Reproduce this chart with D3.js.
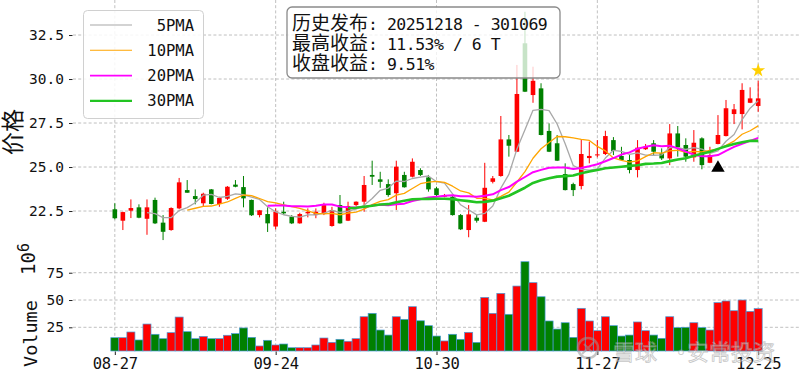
<!DOCTYPE html>
<html>
<head>
<meta charset="utf-8">
<script src="https://cdn.jsdelivr.net/npm/d3@7/dist/d3.min.js"></script>
<style>
  body { margin: 0; background: #fff; }
  svg { display: block; }
  text { white-space: pre; }
</style>
</head>
<body>
<svg id="chart" width="800" height="377"></svg>
<script>
// trading days (MM-DD), 2025-08-27 .. 2025-12-25
var dates = ["08-27","08-28","08-29",
  "09-01","09-02","09-03","09-04","09-05","09-08","09-09","09-10","09-11","09-12",
  "09-15","09-16","09-17","09-18","09-19","09-22","09-23","09-24","09-25","09-26","09-29","09-30",
  "10-09","10-10","10-13","10-14","10-15","10-16","10-17","10-20","10-21","10-22","10-23","10-24",
  "10-27","10-28","10-29","10-30","10-31",
  "11-03","11-04","11-05","11-06","11-07","11-10","11-11","11-12","11-13","11-14",
  "11-17","11-18","11-19","11-20","11-21","11-24","11-25","11-26","11-27","11-28",
  "12-01","12-02","12-03","12-04","12-05","12-08","12-09","12-10","12-11","12-12",
  "12-15","12-16","12-17","12-18","12-19","12-22","12-23","12-24","12-25"];

var open = [22.60,21.95,22.52,22.71,22.06,23.13,21.84,21.42,22.65,23.69,
  23.35,22.94,23.73,22.90,23.20,24.00,23.86,23.13,22.27,22.33,
  21.62,22.46,22.18,21.80,22.37,22.27,22.33,21.65,22.84,21.95,
  22.84,23.03,24.55,24.30,24.03,23.51,24.55,24.45,24.83,24.41,
  23.79,23.31,23.31,22.27,21.42,22.12,21.89,24.16,24.49,26.57,
  25.87,32.03,29.09,29.47,27.05,26.35,24.60,24.03,23.92,25.51,
  25.66,25.74,26.53,25.63,25.40,24.83,26.01,26.35,25.78,25.49,
  26.91,26.25,25.55,26.63,25.24,26.31,26.76,28.01,28.01,28.65,28.47];
var high = [22.94,22.46,23.16,22.88,23.16,23.26,22.27,22.71,24.38,24.26,
  23.73,23.54,23.75,23.31,23.92,24.26,24.49,23.15,22.56,22.71,
  22.65,23.03,22.27,22.40,22.65,22.65,22.97,22.74,23.41,23.03,
  23.05,24.49,25.36,24.73,24.30,25.36,24.73,25.49,24.93,24.55,
  23.88,23.47,23.35,22.33,22.84,22.27,25.24,24.49,27.90,26.82,
  30.80,33.82,30.70,29.76,27.48,26.82,25.21,24.11,26.57,26.44,
  26.53,27.06,26.70,26.15,25.68,26.53,26.31,26.53,26.06,27.44,
  27.33,26.63,27.10,26.69,26.15,27.95,28.81,28.58,29.76,29.53,29.90];
var low = [22.03,21.42,22.10,22.09,21.15,21.76,20.85,21.38,22.60,23.54,
  22.88,22.78,22.88,22.74,23.13,23.85,22.71,22.22,22.14,21.31,
  21.46,22.27,21.76,21.78,22.14,22.09,22.27,21.61,21.78,21.93,
  22.78,22.46,23.98,23.82,23.31,22.56,23.83,24.41,24.49,23.60,
  23.35,23.28,22.24,21.42,21.01,21.84,21.87,24.07,24.45,25.59,
  25.85,29.26,28.65,26.80,25.85,25.34,23.67,23.35,23.73,25.21,
  25.55,25.68,25.68,25.36,24.64,24.41,25.97,25.63,25.40,25.11,
  25.59,25.30,25.30,24.87,25.22,26.29,26.74,27.44,27.14,28.63,28.14];
var close = [22.09,22.44,22.67,22.12,22.71,21.80,21.32,22.67,24.13,23.54,
  23.18,23.48,22.90,23.24,23.88,23.88,23.22,22.26,22.54,21.80,
  22.47,22.37,21.80,22.33,22.46,22.46,22.84,22.56,21.80,22.78,
  23.03,23.98,24.45,24.16,23.41,25.02,23.85,25.30,24.55,23.73,
  23.41,23.41,22.27,21.46,22.31,21.95,23.82,24.36,26.57,26.21,
  29.15,29.28,29.90,26.82,25.87,25.36,23.69,23.69,25.74,25.63,
  25.72,26.76,25.91,25.40,24.83,26.10,26.15,25.87,25.49,26.91,
  26.12,25.59,26.38,25.11,25.68,26.82,28.34,28.28,29.38,28.90,28.90];
// volume, in 10^6
var volume = [15.5,15.5,20.7,13.4,28.0,18.6,14.6,20.1,34.4,21.0,
  14.6,16.7,14.6,14.6,17.7,19.2,24.4,15.8,7.9,13.1,
  8.8,9.7,6.3,6.3,6.3,8.8,15.2,11.2,14.0,12.2,
  14.6,34.7,37.8,22.5,17.9,34.7,32.3,43.9,31.0,26.5,
  17.0,12.5,18.6,14.0,20.4,11.2,52.4,37.8,56.1,36.9,
  62.8,85.1,65.9,53.0,30.8,23.4,29.2,15.8,42.4,30.8,
  21.9,34.7,26.5,17.0,17.9,29.9,21.9,17.9,14.9,34.7,
  24.7,25.0,29.2,24.7,22.5,47.6,49.1,40.2,50.0,39.6,42.1];

var maNames = [" 5PMA", "10PMA", "20PMA", "30PMA"];
var maWindows = [5, 10, 20, 30];
var maColors = ["#a8a8a8", "#ffa500", "#ff00ff", "#22c422"];
var maWidths = [1.3, 1.3, 2, 2.6];

var priceTicks = [22.5, 25.0, 27.5, 30.0, 32.5];
var volTicks = [25, 50, 75];
var xTickIdx = [0, 20, 40, 60, 80];

// release signal and best-high marker
var signalIdx = [75], signalPrice = [24.95];
var starIdx = [80], starPrice = [30.48];

var annoLabels = ["历史发布", "最高收益", "收盘收益"];
var annoValues = [": 20251218 - 301069", ": 11.53% / 6 T", ": 9.51%"];

var UP = "#ff0000", DOWN = "#008000";
var MONO = "'DejaVu Sans Mono', monospace";
var CJK = "'Noto Sans CJK SC', sans-serif";

var svg = d3.select("#chart");
var left = 73, right = 800;
var topY = 0, midY = 245, botY = 351;

var x = d3.scaleLinear().domain([-5.2, 85.2]).range([left, right]);
var yP = d3.scaleLinear().domain([20.57, 34.49]).range([midY, topY]);
var yV = d3.scaleLinear().domain([3.3, 100.4]).range([botY, midY]);

// grid
var grid = svg.append("g").attr("stroke", "#b0b0b0").attr("stroke-width", 0.8)
  .attr("stroke-dasharray", "3,2.2");
grid.selectAll(".gx").data(xTickIdx).enter().append("line")
  .attr("x1", function (d) { return x(d); }).attr("x2", function (d) { return x(d); })
  .attr("y1", topY).attr("y2", botY);
grid.selectAll(".gp").data(priceTicks).enter().append("line")
  .attr("x1", left).attr("x2", right)
  .attr("y1", function (d) { return yP(d); }).attr("y2", function (d) { return yP(d); });
grid.selectAll(".gv").data(volTicks).enter().append("line")
  .attr("x1", left).attr("x2", right)
  .attr("y1", function (d) { return yV(d); }).attr("y2", function (d) { return yV(d); });

// volume bars
var step = x(1) - x(0);
svg.append("g").selectAll("rect").data(volume).enter().append("rect")
  .attr("x", function (d, i) { return x(i) - step / 2; })
  .attr("width", step)
  .attr("y", function (d) { return yV(d); })
  .attr("height", function (d) { return botY - yV(d); })
  .attr("fill", function (d, i) { return close[i] >= open[i] ? UP : DOWN; })
  .attr("stroke", "#4a9ad8").attr("stroke-width", 0.7);

// candles
var candles = svg.append("g").selectAll("g").data(close).enter().append("g")
  .attr("fill", function (d, i) { return d >= open[i] ? UP : DOWN; })
  .attr("stroke", function (d, i) { return d >= open[i] ? UP : DOWN; });
candles.append("line")
  .attr("x1", function (d, i) { return x(i); }).attr("x2", function (d, i) { return x(i); })
  .attr("y1", function (d, i) { return yP(high[i]); })
  .attr("y2", function (d, i) { return yP(low[i]); })
  .attr("stroke-width", 1);
candles.append("rect")
  .attr("stroke", "none")
  .attr("x", function (d, i) { return x(i) - 2.3; })
  .attr("width", 4.6)
  .attr("y", function (d, i) { return yP(Math.max(d, open[i])); })
  .attr("height", function (d, i) { return Math.max(1, Math.abs(yP(d) - yP(open[i]))); });

// moving averages of the close
function movingAvg(n) {
  return close.map(function (c, i) {
    return i < n - 1 ? null : d3.mean(close.slice(i - n + 1, i + 1));
  });
}
var line = d3.line().defined(function (d) { return d != null; })
  .x(function (d, i) { return x(i); }).y(function (d) { return yP(d); });
maWindows.forEach(function (n, k) {
  svg.append("path").datum(movingAvg(n))
    .attr("fill", "none").attr("stroke", maColors[k])
    .attr("stroke-width", maWidths[k]).attr("stroke-linejoin", "round")
    .attr("d", line);
});

// markers
svg.selectAll(".sig").data(signalIdx).enter().append("path")
  .attr("transform", function (d, k) { return "translate(" + x(d) + "," + yP(signalPrice[k]) + ")"; })
  .attr("d", d3.symbol(d3.symbolTriangle, 78)).attr("fill", "#000");
svg.selectAll(".star").data(starIdx).enter().append("path")
  .attr("transform", function (d, k) { return "translate(" + x(d) + "," + yP(starPrice[k]) + ")"; })
  .attr("d", d3.symbol(d3.symbolStar, 60)).attr("fill", "#ffd000");

// axes
function styleAxis(g) {
  g.select(".domain").remove();
  g.selectAll("line").attr("stroke", "#222");
  g.selectAll("text").attr("font-family", MONO).attr("fill", "#111");
}
svg.append("g").attr("transform", "translate(" + (left - 0.5) + ",0)")
  .call(d3.axisLeft(yP).tickValues(priceTicks).tickFormat(d3.format(".1f")).tickSize(3.5).tickPadding(5))
  .call(styleAxis).selectAll("text").attr("font-size", 14.5);
svg.append("g").attr("transform", "translate(" + (left - 0.5) + ",0)")
  .call(d3.axisLeft(yV).tickValues(volTicks).tickSize(3.5).tickPadding(5))
  .call(styleAxis).selectAll("text").attr("font-size", 14.5);
svg.append("g").attr("transform", "translate(0," + (botY + 0.5) + ")")
  .call(d3.axisBottom(x).tickValues(xTickIdx).tickFormat(function (d) { return dates[d]; })
    .tickSize(3.5).tickPadding(3))
  .call(styleAxis).selectAll("text").attr("font-size", 15.5).attr("letter-spacing", -0.3);

// axis titles
svg.append("text").attr("transform", "translate(21,155) rotate(-90)")
  .attr("font-family", CJK).attr("font-size", 23).attr("fill", "#111").text("价格");
svg.append("text").attr("transform", "translate(37,367) rotate(-90)")
  .attr("font-family", MONO).attr("font-size", 18.5).attr("fill", "#111").text("Volume");
var exp = svg.append("text").attr("transform", "translate(35,275) rotate(-90)")
  .attr("font-family", MONO).attr("font-size", 19).attr("fill", "#111");
exp.append("tspan").text("10");
exp.append("tspan").attr("dy", -6).attr("font-size", 15).text("6");

// legend
var lg = svg.append("g");
lg.append("rect").attr("x", 83.5).attr("y", 10.5).attr("width", 120).attr("height", 108).attr("rx", 4)
  .attr("fill", "#fff").attr("fill-opacity", 0.85).attr("stroke", "#d0d0d0");
maNames.forEach(function (name, k) {
  var yy = 25 + k * 25.3;
  lg.append("line").attr("x1", 90).attr("x2", 132).attr("y1", yy).attr("y2", yy)
    .attr("stroke", maColors[k]).attr("stroke-width", maWidths[k] * 0.8);
  lg.append("text").attr("x", 194).attr("y", yy + 5.5).attr("text-anchor", "end")
    .attr("font-family", MONO).attr("font-size", 15.5).attr("fill", "#111").text(name);
});

// annotation box
var an = svg.append("g");
an.append("rect").attr("x", 287).attr("y", 7).attr("width", 273).attr("height", 71).attr("rx", 5)
  .attr("fill", "#fff").attr("fill-opacity", 0.78).attr("stroke", "#8a8a8a").attr("stroke-width", 1.3);
annoLabels.forEach(function (lab, k) {
  var t = an.append("text").attr("x", 292).attr("y", 29.5 + k * 20).attr("fill", "#111");
  t.append("tspan").attr("font-family", CJK).attr("font-size", 19).text(lab);
  t.append("tspan").attr("font-family", MONO).attr("font-size", 16.5)
    .attr("letter-spacing", -0.5).text(annoValues[k]);
});

// watermark
var wm = svg.append("g").attr("opacity", 0.55);
wm.append("circle").attr("cx", 588).attr("cy", 348).attr("r", 10)
  .attr("fill", "none").attr("stroke", "#999").attr("stroke-width", 2.5);
wm.append("path").attr("d", "M582,354 L594,342 M584,344 Q588,348 592,352")
  .attr("fill", "none").attr("stroke", "#999").attr("stroke-width", 2);
var wmText = [["雪球", 613], ["·", 670], ["安常投资", 687]];
wmText.forEach(function (w) {
  wm.append("text").attr("x", w[1]).attr("y", 360).attr("font-family", CJK).attr("font-size", 22)
    .attr("fill", "#fff").attr("stroke", "#999").attr("stroke-width", 0.8).text(w[0]);
});
</script>
</body>
</html>
